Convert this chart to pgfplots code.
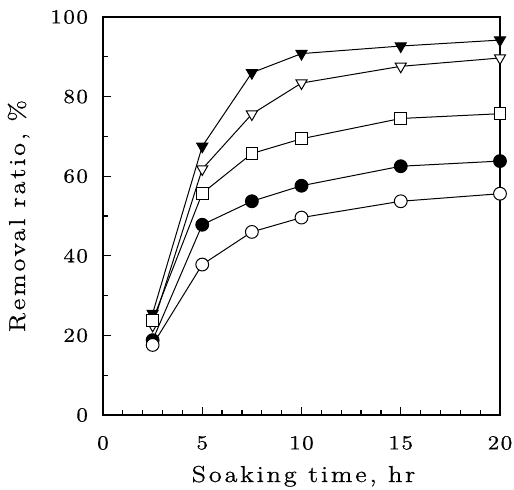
\documentclass[border=0pt]{standalone}
\usepackage{fontspec}
\usepackage{pgfplots}
\pgfplotsset{compat=1.18}
\newfontfamily\ticksfont[FakeStretch=1.15, LetterSpace=7.5, FakeBold=0.6]{Latin Modern Roman}
\newfontfamily\labelfont[FakeStretch=1.15, LetterSpace=12, FakeBold=0.6]{Latin Modern Roman}
\begin{document}
\begin{tikzpicture}
\path[use as bounding box] (-51.5pt,-37.5pt) rectangle (205.5pt,207.5pt);
\begin{axis}[
  at={(0,0)}, anchor=south west,
  scale only axis,
  width=198.5pt, height=199pt,
  xmin=0, xmax=20, ymin=0, ymax=100,
  xtick={0,5,10,15,20}, ytick={0,20,40,60,80,100},
  minor x tick num=4, minor y tick num=1,
  tick pos=left, tick align=inside,
  major tick length=4pt, minor tick length=2.5pt,
  axis line style={line width=1pt},
  every tick/.style={line width=0.6pt, black},
  /pgf/number format/assume math mode=true,
  ticklabel style={font=\ticksfont\fontsize{10}{12}\selectfont},
  yticklabel style={xshift=-4pt},
  xticklabel style={yshift=-7pt},
  xlabel={Soaking time, hr},
  ylabel={Removal ratio, \%},
  label style={font=\labelfont\fontsize{11.5}{14}\selectfont},
  xlabel style={at={([xshift=1pt,yshift=-33.5pt]axis description cs:0.5,0)}, anchor=base},
  ylabel style={at={([xshift=-39pt]axis description cs:0,0.5)}, anchor=base, rotate=0},
  every axis plot/.append style={line width=0.5pt, black, mark size=3.2pt, mark options={solid, line width=0.6pt}},
  clip=false,
]
% filled triangles
\addplot[mark=triangle*, mark options={rotate=180, fill=black}] coordinates {
  (2.5,25.5) (5,67.5) (7.5,86) (10,90.8) (15,92.7) (20,94.2)
};
% open triangles
\addplot[mark=triangle*, mark options={rotate=180, fill=white}] coordinates {
  (2.5,22.5) (5,61.8) (7.5,75.6) (10,83.4) (15,87.6) (20,89.7)
};
% open squares
\addplot[mark=square*, mark size=2.9pt, mark options={fill=white}] coordinates {
  (2.5,23.8) (5,55.7) (7.5,65.7) (10,69.4) (15,74.5) (20,75.7)
};
% filled circles
\addplot[mark=*, mark options={fill=black}] coordinates {
  (2.5,18.8) (5,47.8) (7.5,53.7) (10,57.6) (15,62.5) (20,63.8)
};
% open circles
\addplot[mark=*, mark options={fill=white}] coordinates {
  (2.5,17.6) (5,37.8) (7.5,46) (10,49.6) (15,53.7) (20,55.6)
};
\end{axis}
\end{tikzpicture}
\end{document}
